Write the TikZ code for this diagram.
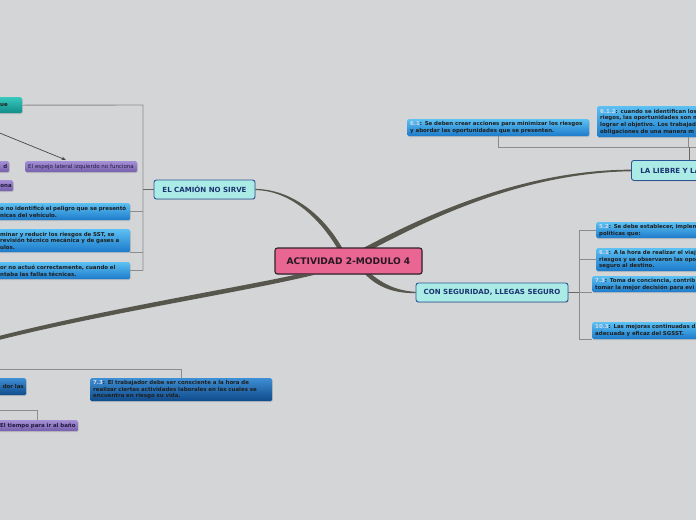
\documentclass[tikz,border=0pt]{standalone}
\usepackage{fontspec}
\setmainfont{DejaVu Sans}
\usetikzlibrary{calc,arrows.meta,shadows,backgrounds}
\definecolor{bg}{RGB}{212,213,215}
\definecolor{pinkfill}{RGB}{232,102,145}
\definecolor{maindraw}{RGB}{50,36,44}
\definecolor{maintext}{RGB}{40,24,36}
\definecolor{cyanfill}{RGB}{170,235,230}
\definecolor{cyanborder}{RGB}{45,85,150}
\definecolor{cyantext}{RGB}{28,52,112}
\definecolor{bluetop}{RGB}{92,192,242}
\definecolor{bluebot}{RGB}{28,122,202}
\definecolor{dbluetop}{RGB}{62,142,212}
\definecolor{dbluebot}{RGB}{14,74,138}
\definecolor{tealtop}{RGB}{56,200,190}
\definecolor{tealbot}{RGB}{16,140,136}
\definecolor{purtop}{RGB}{164,142,212}
\definecolor{purbot}{RGB}{118,96,172}
\definecolor{purtext}{RGB}{36,26,64}
\definecolor{branchcol}{RGB}{86,86,76}
\definecolor{bracketcol}{RGB}{140,140,140}
\definecolor{bracketdk}{RGB}{104,104,96}
\definecolor{arrowcol}{RGB}{70,70,66}
\definecolor{numcol}{RGB}{212,218,234}
\newcommand{\nm}[1]{\textcolor{numcol}{#1}}
\tikzset{
  shadowsoft/.style={drop shadow={shadow xshift=0.6pt,shadow yshift=-0.9pt,opacity=0.28}},
  mainbox/.style={draw=maindraw, line width=1.1pt, fill=pinkfill, rounded corners=2.5pt,
    font=\fontsize{9.1}{11}\selectfont\bfseries, text=maintext, minimum width=147pt,
    minimum height=26pt, inner sep=0pt, shadowsoft},
  topicbox/.style={draw=cyanborder, line width=0.9pt, fill=cyanfill, rounded corners=2.5pt,
    font=\fontsize{7.05}{8}\selectfont\bfseries, text=cyantext, minimum height=19pt,
    inner sep=0pt, shadowsoft},
  leafbase/.style={anchor=north west, rounded corners=1.5pt, inner xsep=3pt, inner ysep=0pt,
    align=left, font=\fontsize{5.45}{6.7}\selectfont\bfseries, text=black!88, shadowsoft},
  blueleaf/.style={leafbase, top color=bluetop, bottom color=bluebot},
  dblueleaf/.style={leafbase, top color=dbluetop, bottom color=dbluebot},
  tealleaf/.style={leafbase, top color=tealtop, bottom color=tealbot},
  purleaf/.style={leafbase, top color=purtop, bottom color=purbot, text=purtext},
  bracket/.style={draw=bracketcol, line width=0.9pt},
  bracketdark/.style={draw=bracketdk, line width=1pt},
  branch/.style={fill=branchcol},
  arrowline/.style={draw=arrowcol, line width=0.7pt, -{Stealth[length=4.5pt,width=3.5pt]}},
}
\begin{document}
\begin{tikzpicture}[x=1pt,y=-1pt]
\useasboundingbox (0,0) rectangle (696,520);

% ---- main and topic nodes
\node[mainbox] (main) at (348.5,261) {ACTIVIDAD 2-MODULO 4};
\node[topicbox, minimum width=101pt] (camion) at (204.5,189.5) {EL CAMIÓN NO SIRVE};
\node[topicbox, minimum width=152pt] (con) at (492,292.5) {CON SEGURIDAD, LLEGAS SEGURO};
\node[topicbox, anchor=north west, minimum width=110pt, minimum height=20pt, inner xsep=9pt,
      text width=92pt, align=left] (liebre) at (631,160) {LA LIEBRE Y LA};

% ---- right side leaves
\node[blueleaf, minimum width=182pt, minimum height=17pt, text width=176pt] (n61) at (407,119)
  {\mbox{\nm{6.1}: Se deben crear acciones para minimizar los riesgos}\\\mbox{y abordar las oportunidades que se presenten.}};
\node[blueleaf, minimum width=130pt, minimum height=31pt, text width=124pt] (n612) at (597,106)
  {\mbox{\nm{6.1.2}: cuando se identifican los}\\\mbox{riegos, las oportunidades son m}\\\mbox{lograr el objetivo. Los trabajad}\\\mbox{obligaciones de una manera m}};
\node[blueleaf, minimum width=130pt, minimum height=16pt, text width=124pt] (n52) at (596,222)
  {\mbox{\nm{5.2}: Se debe establecer, implem}\\\mbox{políticas que:}};
\node[blueleaf, minimum width=130pt, minimum height=23pt, text width=124pt] (n61b) at (596,248)
  {\mbox{\nm{6.1}: A la hora de realizar el viaj}\\\mbox{riesgos y se observaron las opo}\\\mbox{seguro al destino.}};
\node[blueleaf, minimum width=130pt, minimum height=16pt, text width=124pt] (n73r) at (592,276)
  {\mbox{\nm{7.3}: Toma de conciencia, contrib}\\\mbox{tomar la mejor decisión para evi}};
\node[blueleaf, minimum width=130pt, minimum height=17pt, text width=124pt] (n103) at (592,322)
  {\mbox{\nm{10.3}: Las mejoras continuadas d}\\\mbox{adecuada y eficaz del SGSST.}};

% ---- left side leaves
\node[tealleaf, minimum width=25pt, minimum height=16pt, text width=19pt] (t1) at (-3,97) {ue};
\node[purleaf, minimum width=12pt, minimum height=11pt, text width=8pt, inner xsep=2pt, align=right] (p1) at (-3,161) {d};
\node[purleaf, minimum width=112pt, minimum height=11pt, text width=106pt, font=\fontsize{5.5}{7}\selectfont] (p2) at (25,161) {\mbox{El espejo lateral izquierdo no funciona}};
\node[purleaf, minimum width=16pt, minimum height=11pt, text width=13pt, inner xsep=1.5pt, align=right] (p3) at (-3,180) {ona};
\node[blueleaf, minimum width=133pt, minimum height=17pt, text width=127pt] (l1) at (-3,203)
  {\mbox{o no identificó el peligro que se presentó}\\\mbox{nicas del vehículo.}};
\node[blueleaf, minimum width=133pt, minimum height=23pt, text width=127pt] (l2) at (-3,229)
  {\mbox{minar y reducir los riesgos de SST, se}\\\mbox{revisión técnico mecánica y de gases a}\\\mbox{ulos.}};
\node[blueleaf, minimum width=133pt, minimum height=17pt, text width=127pt] (l3) at (-3,262)
  {\mbox{or no actuó correctamente, cuando el}\\\mbox{ntaba las fallas técnicas.}};

% ---- bottom leaves
\node[dblueleaf, minimum width=29pt, minimum height=17pt, text width=24pt, inner xsep=2.5pt, align=right] (b1) at (-3,378) {\mbox{dor las}};
\node[dblueleaf, minimum width=182pt, minimum height=23pt, text width=176pt] (b2) at (90,378)
  {\mbox{\nm{7.3}: El trabajador debe ser consciente a la hora de}\\\mbox{realizar ciertas actividades laborales en las cuales se}\\\mbox{encuentra en riesgo su vida.}};
\node[purleaf, minimum width=81pt, minimum height=11pt, text width=75pt] (p4) at (-3,420) {\mbox{El tiempo para ir al baño}};

% ---- free ends
\coordinate (astart) at (-20,125);
\coordinate (lend) at (-5,339);
\coordinate (LBt) at (143,105);
\coordinate (LBb) at (143,270.5);
\coordinate (rtend) at (702,147);
\coordinate (RBt) at (579,230);
\coordinate (RBb) at (579,339);
\coordinate (bstart) at (-5,369);
\coordinate (pstart) at (-5,410);

\begin{scope}[on background layer]
  \fill[bg] (0,0) rectangle (696,520);
  % left brackets
  \draw[bracket] (t1.east) -- (LBt) -- (LBb);
  \draw[bracket] (l1.east) -- (l1.east -| LBt);
  \draw[bracket] (l2.south east) -- (l2.south east -| LBt);
  \draw[bracket] (l3.east) -- (l3.east -| LBt);
  \draw[bracketdark] (camion.west) -- (camion.west -| LBt);
  % top right brackets
  \draw[bracket] (n61.south) -- (n61.south |- rtend) -- (rtend);
  \draw[bracket] ($(n612.south west)+(91,0)$) -- ($(n612.south west)+(91,10)$);
  \draw[bracketdark] ($(liebre.north west)+(58,0)$) -- ($(liebre.north west)+(58,-13)$);
  % right brackets
  \draw[bracketdark] (con.east) -- (con.east -| RBt);
  \draw[bracket] (RBt) -- (RBb);
  \draw[bracket] (n52.west -| RBt) -- (n52.west);
  \draw[bracket] (n61b.west -| RBt) -- (n61b.west);
  \draw[bracket] (n73r.south west -| RBt) -- (n73r.south west);
  \draw[bracket] (n103.south west -| RBt) -- (n103.south west);
  % bottom brackets
  \draw[bracket] (bstart) -| ($(b2.north west)+(91,0)$);
  \draw[bracket] (pstart) -| ($(p4.north west)+(40,0)$);
  % arrow
  \draw[arrowline] (astart) -- ($(p2.north west)+(41,-1)$);
  % tapered branches
  \fill[branch] ($(main.north)+(14,1)$) .. controls (420,218) and (520,170) .. ($(liebre.west)+(0,-0.8)$)
     -- ($(liebre.west)+(0,0.8)$) .. controls (521,173) and (428,220) .. ($(main.north)+(25,1)$) -- cycle;
  \fill[branch] ($(main.south)+(-52,0)$) .. controls (238,287.5) and (100,310) .. ($(lend)+(0,-2)$)
     -- ($(lend)+(0,2)$) .. controls (100,314) and (242,292.5) .. ($(main.south)+(-33,0)$) -- cycle;
  \fill[branch] ($(camion.east)+(0,-0.6)$) .. controls (291,189.4) and (323,214) .. ($(main.north)+(-6,1)$)
     -- ($(main.north)+(-11,1)$) .. controls (318,216) and (289,190.6) .. ($(camion.east)+(0,0.6)$) -- cycle;
  \fill[branch] ($(main.south)+(16,-1)$) .. controls (377,287) and (394,293.5) .. ($(con.west)+(0,0.6)$)
     -- ($(con.west)+(0,-0.6)$) .. controls (396,290.5) and (383,284) .. ($(main.south)+(22,-1)$) -- cycle;
\end{scope}
\end{tikzpicture}
\end{document}
